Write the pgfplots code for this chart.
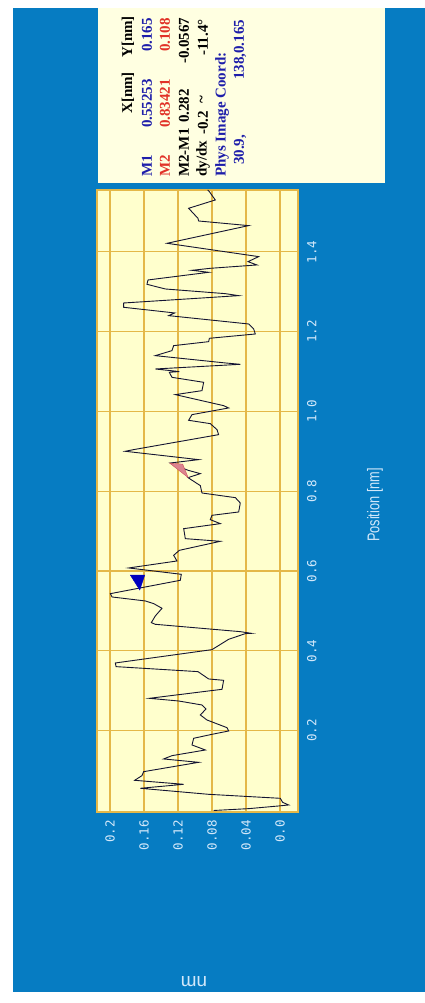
\documentclass[border=0pt]{standalone}
\usepackage{pgfplots}
\pgfplotsset{compat=1.18}
\usepackage{fontspec}
\setmainfont{Liberation Serif}
\newfontfamily\tickfont{DejaVu Sans Mono}
\newfontfamily\labfont[FakeStretch=0.75]{Liberation Sans}
\newfontfamily\sansfont{Liberation Sans}
\definecolor{bgblue}{RGB}{6,124,194}
\definecolor{panelbg}{RGB}{255,255,225}
\definecolor{plotbg}{RGB}{255,255,205}
\definecolor{gridgold}{RGB}{228,184,72}
\definecolor{ticktext}{RGB}{210,232,250}
\definecolor{infoblue}{RGB}{30,30,170}
\definecolor{infored}{RGB}{225,50,40}
\definecolor{curve}{RGB}{20,20,50}
\definecolor{mblue}{RGB}{0,0,190}
\definecolor{mred}{RGB}{205,80,95}
\pgfdeclareplotmark{mone}{\pgfpathmoveto{\pgfqpoint{0pt}{0pt}}\pgfpathlineto{\pgfqpoint{-9.5pt}{15pt}}\pgfpathlineto{\pgfqpoint{5pt}{15pt}}\pgfpathclose\pgfusepathqfillstroke}
\pgfdeclareplotmark{mtwo}{\pgfpathmoveto{\pgfqpoint{0pt}{0pt}}\pgfpathlineto{\pgfqpoint{-18.5pt}{14.5pt}}\pgfpathlineto{\pgfqpoint{-5.5pt}{13.5pt}}\pgfpathclose\pgfusepathqfillstroke}
\begin{document}
\begin{tikzpicture}[x=1pt,y=1pt]
\fill[white] (0,0) rectangle (425,1003);
\fill[bgblue] (13,11) rectangle (425,995);
\fill[panelbg] (98,820) rectangle (385,995);
\begin{axis}[at={(97pt,191pt)}, anchor=south west, scale only axis,
  width=201pt, height=622pt,
  x dir=reverse, xmin=-0.0212, xmax=0.2153, ymin=-0.0038, ymax=1.5551,
  xtick={0,0.04,0.08,0.12,0.16,0.2},
  xticklabels={0.0,0.04,0.08,0.12,0.16,0.2},
  ytick={0.2,0.4,0.6,0.8,1.0,1.2,1.4},
  yticklabels={0.2,0.4,0.6,0.8,1.0,1.2,1.4},
  yticklabel pos=right,
  major tick length=0pt,
  grid=major, major grid style={gridgold, line width=1.2pt},
  axis line style={gridgold, line width=2.5pt},
  axis background/.style={fill=plotbg},
  xticklabel style={rotate=90, anchor=east, inner sep=0pt, text=ticktext, font=\tickfont\fontsize{12.5}{13}\selectfont},
  xticklabel shift=8pt,
  yticklabel style={rotate=90, anchor=north, inner sep=0pt, text=ticktext, font=\tickfont\fontsize{12.5}{13}\selectfont},
  yticklabel shift=9pt,
]
\addplot[curve, line width=0.9pt, mark=none] coordinates {
(0.0780,0.0000) (0.0369,0.0046) (0.0016,0.0113) (-0.0102,0.0138) (-0.0031,0.0205)
(-0.0004,0.0305) (0.0839,0.0405) (0.1643,0.0556) (0.1133,0.0656) (0.1710,0.0756)
(0.1624,0.0873) (0.1604,0.0973) (0.0957,0.1207) (0.1369,0.1291) (0.1271,0.1374)
(0.0878,0.1516) (0.1035,0.1642) (0.1016,0.1809) (0.0800,0.1909) (0.0604,0.1992)
(0.0624,0.2076) (0.0859,0.2268) (0.0937,0.2393) (0.0871,0.2544) (0.0918,0.2644)
(0.1192,0.2744) (0.1537,0.2811) (0.0682,0.3037) (0.0663,0.3262) (0.0839,0.3296)
(0.0965,0.3480) (0.1929,0.3605) (0.1937,0.3697) (0.0800,0.4031) (0.0604,0.4290)
(0.0408,0.4432) (0.0337,0.4440) (0.0467,0.4482) (0.1467,0.4666) (0.1514,0.4708)
(0.1467,0.4875) (0.1388,0.5067) (0.1486,0.5184) (0.1584,0.5251)
(0.1976,0.5351) (0.1996,0.5434) (0.1173,0.5769) (0.1161,0.5919) (0.1780,0.6078)
(0.1212,0.6253) (0.1251,0.6395) (0.1184,0.6520) (0.0702,0.6746) (0.1114,0.6813)
(0.1133,0.7063) (0.0702,0.7189) (0.0820,0.7289) (0.0800,0.7398) (0.0486,0.7481)
(0.0467,0.7707) (0.0525,0.7840)
(0.0918,0.7957) (0.0937,0.8141) (0.1082,0.8342) (0.0937,0.8442) (0.1082,0.8526)
(0.1290,0.8709) (0.0957,0.8793) (0.1820,0.9002) (0.1722,0.9044) (0.0722,0.9419)
(0.0741,0.9545) (0.0820,0.9695) (0.1075,0.9779) (0.1035,0.9921) (0.0604,1.0088)
(0.0663,1.0146) (0.1231,1.0422)
(0.0918,1.0522) (0.0898,1.0731) (0.1271,1.0856) (0.1302,1.0982) (0.1184,1.1000)
(0.1467,1.1065) (0.0467,1.1182) (0.0643,1.1216) (0.1467,1.1399) (0.1271,1.1525)
(0.1251,1.1650) (0.0839,1.1750) (0.0831,1.1834) (0.0290,1.1942) (0.0310,1.2068)
(0.0369,1.2193) (0.1310,1.2402) (0.1239,1.2469) (0.1369,1.2500) (0.1839,1.2611)
(0.1839,1.2719) (0.0486,1.2903) (0.0643,1.2953) (0.1349,1.3070)
(0.1565,1.3187) (0.1553,1.3296) (0.0839,1.3488) (0.1035,1.3538) (0.0820,1.3588)
(0.0271,1.3672) (0.0376,1.3755) (0.0251,1.3881) (0.1329,1.4215) (0.0369,1.4658)
(0.0957,1.4774) (0.0965,1.4841) (0.1075,1.5092) (0.0761,1.5301) (0.0831,1.5510)
(0.0850,1.5551)
};
\addplot[only marks, mark=mone, draw=mblue, fill=mblue] coordinates {(0.165,0.55253)};
\addplot[only marks, mark=mtwo, draw=mred, fill=mred!70] coordinates {(0.108,0.83421)};
\end{axis}
% axis title and unit
\node[rotate=90, text=ticktext, font=\labfont\fontsize{17}{17}\selectfont] at (375,498) {Position [nm]};
\node[rotate=180, text=ticktext, font=\sansfont\fontsize{19}{19}\selectfont] at (194,21) {nm};
% info panel
\begin{scope}[every node/.style={rotate=90, anchor=west, inner sep=0pt, font=\bfseries\fontsize{15}{15}\selectfont}]
\node[text=black] at (128,889) {X[nm]};
\node[text=black] at (128,945) {Y[nm]};
\node[text=infoblue] at (147,826) {M1};
\node[text=infoblue] at (147,875) {0.55253};
\node[text=infoblue] at (147,951) {0.165};
\node[text=infored] at (165,826) {M2};
\node[text=infored] at (165,875) {0.83421};
\node[text=infored] at (165,951) {0.108};
\node[text=black] at (184,826) {M2-M1};
\node[text=black] at (184,880) {0.282};
\node[text=black] at (184,939) {-0.0567};
\node[text=black] at (203,826) {dy/dx};
\node[text=black] at (203,868) {-0.2};
\node[text=black] at (203,899) {\char"7E};
\node[text=black] at (203,947) {-11.4°};
\node[text=infoblue] at (222,826) {Phys Image Coord:};
\node[text=infoblue] at (240,838) {30.9,};
\node[text=infoblue] at (240,923) {138,0.165};
\end{scope}
\end{tikzpicture}
\end{document}
